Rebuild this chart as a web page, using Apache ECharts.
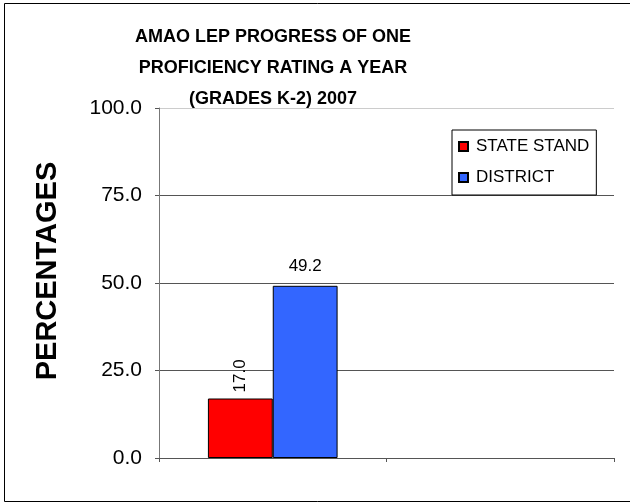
<!DOCTYPE html>
<html>
<head>
<meta charset="utf-8">
<script src="https://cdn.jsdelivr.net/npm/echarts@6/dist/echarts.min.js"></script>
<style>
html,body{margin:0;padding:0;background:#fff;}
#c{width:630px;height:504px;}
</style>
</head>
<body>
<div id="c"></div>
<script>
const categories = ['2007', ''];
const stateStand = [17.0, null];
const district = [49.2, null];
const seriesNames = ['STATE STAND', 'DISTRICT'];
const titleLines = ['AMAO LEP PROGRESS OF ONE', 'PROFICIENCY RATING A YEAR', '(GRADES K-2) 2007'];
const yAxisTitle = 'PERCENTAGES';

const FONT = '"Liberation Sans", Arial, sans-serif';
const chart = echarts.init(document.getElementById('c'), null, {renderer: 'canvas'});
chart.setOption({
  animation: false,
  backgroundColor: '#ffffff',
  textStyle: {fontFamily: FONT},
  title: {
    text: titleLines.join('\n'),
    left: 268, top: 17, textAlign: 'center',
    textStyle: {fontFamily: FONT, fontSize: 18, fontWeight: 'bold', color: '#000', lineHeight: 31}
  },
  legend: {
    orient: 'vertical',
    left: 452, top: 130,
    padding: [8, 7, 9, 6],
    itemGap: 14,
    itemWidth: 9, itemHeight: 9,
    borderColor: '#000', borderWidth: 1,
    backgroundColor: '#fff',
    icon: 'rect',
    textStyle: {fontFamily: FONT, fontSize: 17, color: '#000', padding: [0, 0, 0, 3]},
    data: seriesNames
  },
  grid: {left: 159, right: 16, top: 108, bottom: 46, containLabel: false},
  xAxis: {
    type: 'category',
    data: categories,
    axisLine: {lineStyle: {color: '#555', width: 1}},
    axisTick: {show: true, alignWithLabel: false, length: 4, lineStyle: {color: '#555'}},
    axisLabel: {show: false},
    splitLine: {show: false}
  },
  yAxis: {
    type: 'value',
    min: 0, max: 100, interval: 25,
    axisLine: {show: true, lineStyle: {color: '#777', width: 1}},
    axisTick: {show: true, length: 4, lineStyle: {color: '#555'}},
    axisLabel: {fontFamily: FONT, fontSize: 21, color: '#000', margin: 17, formatter: v => v.toFixed(1)},
    splitLine: {show: true, lineStyle: {color: ['#555', '#555', '#555', '#555', '#ccc'], width: 1}}
  },
  series: [
    {
      name: seriesNames[0], type: 'bar', data: stateStand,
      barGap: '0%', barCategoryGap: '43%',
      itemStyle: {color: '#ff0000', borderColor: '#000', borderWidth: 1},
      label: {show: true, position: 'top', rotate: 90, align: 'left', verticalAlign: 'middle', distance: 6,
        fontFamily: FONT, fontSize: 17, color: '#000', formatter: p => p.value.toFixed(1)}
    },
    {
      name: seriesNames[1], type: 'bar', data: district,
      barGap: '0%', barCategoryGap: '43%',
      itemStyle: {color: '#3366ff', borderColor: '#000', borderWidth: 1},
      label: {show: true, position: 'top', distance: 11,
        fontFamily: FONT, fontSize: 17, color: '#000', formatter: p => p.value.toFixed(1)}
    }
  ],
  graphic: [
    {type: 'rect', silent: true, z: -1, shape: {x: 4.5, y: 3.5, width: 640, height: 498},
      style: {fill: 'none', stroke: '#000', lineWidth: 1}},
    {type: 'text', x: 48, y: 271, rotation: Math.PI / 2,
      style: {text: yAxisTitle, fontFamily: FONT, fontSize: 29, fontWeight: 'bold', fill: '#000', align: 'center', verticalAlign: 'middle'}}
  ]
});
</script>
</body>
</html>
